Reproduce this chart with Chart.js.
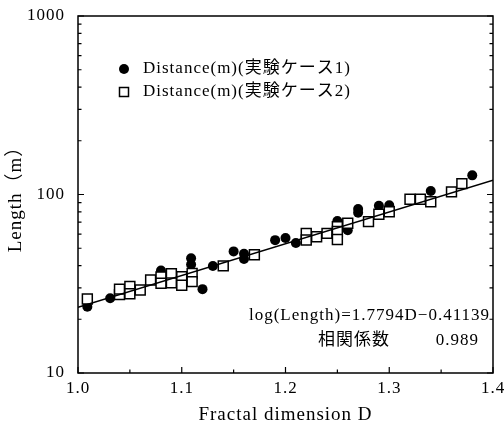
<!DOCTYPE html>
<html>
<head>
<meta charset="utf-8">
<script src="https://cdn.jsdelivr.net/npm/chart.js@4.4.0/dist/chart.umd.min.js"></script>
<style>
  html, body { margin: 0; padding: 0; background: #fff; }
  canvas { display: block; }
</style>
</head>
<body>
<canvas id="fractalChart" width="504" height="426"></canvas>
<script>
// case 1 (filled circles)
const caseD1 = [1.009, 1.031, 1.080, 1.109, 1.109, 1.120, 1.130, 1.150, 1.160, 1.160,
                1.190, 1.200, 1.210, 1.250, 1.260, 1.270, 1.270, 1.290, 1.300, 1.340, 1.380];
const caseL1 = [23.5, 26.2, 37.5, 43.9, 40.5, 29.5, 39.8, 48, 46.5, 43.5,
                55.5, 57, 53.5, 71, 63, 83, 79, 86.5, 87, 104.5, 128];

// case 2 (open squares)
const caseD2 = [1.009, 1.040, 1.040, 1.050, 1.050, 1.060, 1.070, 1.080, 1.080, 1.090,
                1.090, 1.100, 1.100, 1.110, 1.110, 1.140, 1.170, 1.220, 1.220, 1.230,
                1.240, 1.250, 1.250, 1.250, 1.260, 1.280, 1.290, 1.300, 1.320, 1.330,
                1.340, 1.360, 1.370];
const caseL2 = [26, 27.5, 29.5, 30.5, 27.8, 29.2, 33.2, 34.5, 31.8, 36,
                32, 34.6, 31, 36.1, 32.5, 39.8, 46, 60.6, 55.6, 58,
                60.6, 66, 62, 56, 69, 70.5, 77.5, 80, 94, 94,
                91, 103.5, 115];

// regression: log(Length) = 1.7794D - 0.41139
const fitSlope = 1.7794;
const fitIntercept = -0.41139;
const fitRange = [1.0, 1.4];

const xTicks = [1.0, 1.1, 1.2, 1.3, 1.4];
const yTicks = [10, 100, 1000];

const seriesLabels = ['Distance(m)(実験ケース1)', 'Distance(m)(実験ケース2)'];
const fitText = 'log(Length)=1.7794D\u22120.41139';
const corrLabel = '相関係数';
const corrValue = '0.989';

const serif = '"Liberation Serif", "DejaVu Serif", serif';
const jpFont = '"Liberation Serif", "Noto Sans CJK JP", serif';

const toPoints = (xs, ys) => xs.map((x, i) => ({x: x, y: ys[i]}));
const fitLine = fitRange.map(d => ({x: d, y: Math.pow(10, fitSlope * d + fitIntercept)}));

// frame, inward ticks, legend and fit text
const decorations = {
    id: 'decorations',
    beforeDraw(chart) {
        chart.ctx.letterSpacing = '1px';
    },
    afterDraw(chart) {
        const c = chart.ctx;
        const a = chart.chartArea;
        const xs = chart.scales.x;
        const ys = chart.scales.y;
        c.save();
        c.strokeStyle = '#000';
        c.lineWidth = 1.5;
        c.strokeRect(a.left, a.top, a.right - a.left, a.bottom - a.top);

        c.lineWidth = 1.2;
        c.beginPath();
        // x ticks (major 0.1, minor 0.05)
        for (let i = 0; i <= 8; i++) {
            const v = fitRange[0] + i * 0.05;
            const px = xs.getPixelForValue(v);
            const len = i % 2 === 0 ? 6 : 3.5;
            c.moveTo(px, a.bottom); c.lineTo(px, a.bottom - len);
        }
        // y ticks, log minor
        for (let dec = 10; dec < 1000; dec *= 10) {
            for (let m = 1; m <= 10; m++) {
                const py = ys.getPixelForValue(dec * m);
                const len = (m === 1 || m === 10) ? 6 : 3.5;
                c.moveTo(a.left, py); c.lineTo(a.left + len, py);
                c.moveTo(a.right, py); c.lineTo(a.right - len, py);
            }
        }
        c.stroke();

        // legend
        const legendY = [69, 92];
        c.fillStyle = '#000';
        c.beginPath();
        c.arc(124, legendY[0], 5, 0, Math.PI * 2);
        c.fill();
        c.lineWidth = 1.5;
        c.fillStyle = '#fff';
        c.fillRect(119.5, legendY[1] - 4.5, 9, 9);
        c.strokeRect(119.5, legendY[1] - 4.5, 9, 9);
        c.fillStyle = '#000';
        c.letterSpacing = '1px';
        c.font = '17px ' + jpFont;
        c.textBaseline = 'middle';
        c.textAlign = 'left';
        seriesLabels.forEach((t, i) => c.fillText(t, 143, legendY[i]));

        // fit equation and correlation
        c.textAlign = 'right';
        c.fillText(fitText, 490, 316);
        c.fillText(corrValue, 479, 341);
        c.textAlign = 'left';
        c.fillText(corrLabel, 318, 341);
        c.restore();
    }
};

new Chart(document.getElementById('fractalChart'), {
    type: 'scatter',
    data: {
        datasets: [{
            label: seriesLabels[0],
            data: toPoints(caseD1, caseL1),
            pointStyle: 'circle',
            pointRadius: 5,
            backgroundColor: '#000',
            borderColor: '#000',
            borderWidth: 0,
            order: 2
        }, {
            label: seriesLabels[1],
            data: toPoints(caseD2, caseL2),
            pointStyle: 'rect',
            pointRadius: 7,
            backgroundColor: '#fff',
            borderColor: '#000',
            borderWidth: 1.5,
            order: 1
        }, {
            type: 'line',
            label: 'fit',
            data: fitLine,
            borderColor: '#000',
            borderWidth: 1.5,
            pointRadius: 0,
            fill: false,
            order: 0
        }]
    },
    options: {
        responsive: false,
        animation: false,
        layout: { padding: { top: 16, right: 11, left: 0, bottom: 0 } },
        plugins: {
            legend: { display: false },
            tooltip: { enabled: false }
        },
        scales: {
            x: {
                type: 'linear',
                min: 1.0,
                max: 1.4,
                afterBuildTicks: s => { s.ticks = xTicks.map(v => ({value: v})); },
                afterFit: s => { s.height = 53; },
                grid: { display: false },
                border: { display: false },
                ticks: {
                    color: '#000',
                    padding: -3,
                    font: { family: serif, size: 17 },
                    callback: v => v.toFixed(1)
                },
                title: {
                    display: true,
                    text: 'Fractal dimension D',
                    color: '#000',
                    font: { family: serif, size: 19 },
                    padding: { top: 0, bottom: 0 }
                }
            },
            y: {
                type: 'logarithmic',
                min: 10,
                max: 1000,
                afterBuildTicks: s => { s.ticks = yTicks.map(v => ({value: v})); },
                afterFit: s => { s.width = 78; },
                grid: { display: false },
                border: { display: false },
                ticks: {
                    color: '#000',
                    padding: 5,
                    font: { family: serif, size: 17 },
                    callback: v => String(v)
                },
                title: {
                    display: true,
                    text: 'Length（m）',
                    color: '#000',
                    font: { family: jpFont, size: 19 },
                    padding: { top: 5, bottom: 0 }
                }
            }
        }
    },
    plugins: [decorations]
});
</script>
</body>
</html>
